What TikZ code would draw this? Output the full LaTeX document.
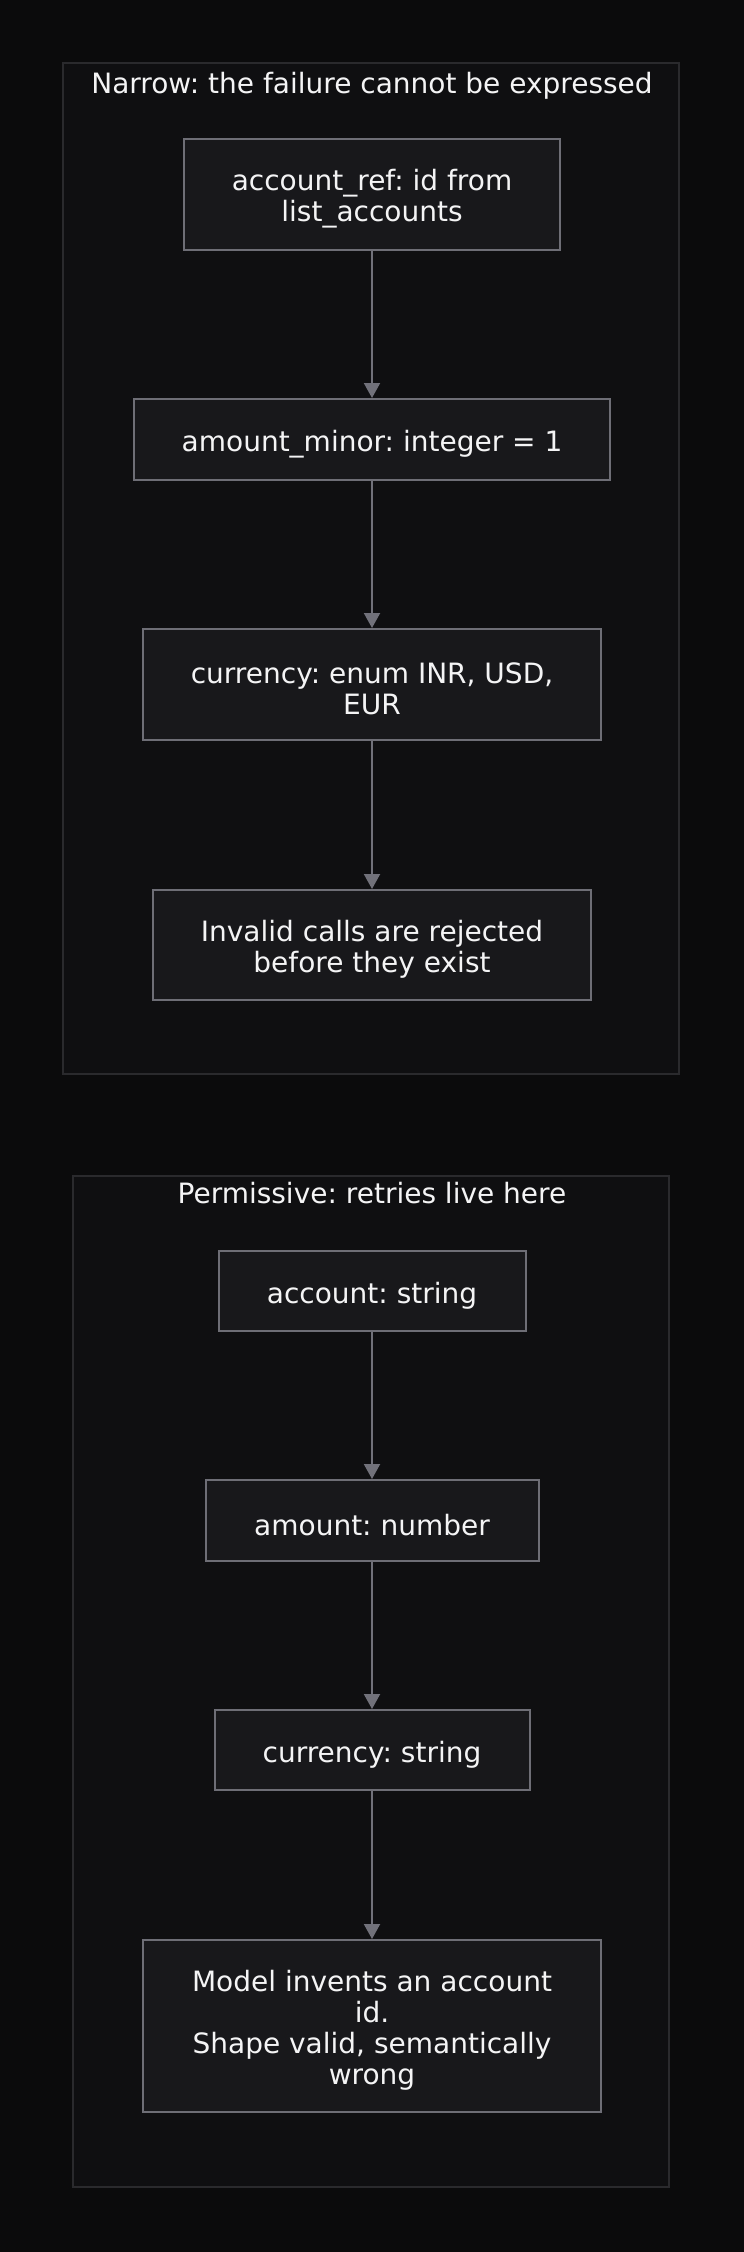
\documentclass[tikz,border=0pt]{standalone}
\usepackage{fontspec}
\setmainfont{DejaVu Sans}
\usetikzlibrary{arrows.meta}
\frenchspacing
\definecolor{bgcol}{HTML}{0B0B0C}
\definecolor{clusterfill}{HTML}{0F0F11}
\definecolor{clusterline}{HTML}{2A2A2D}
\definecolor{boxfill}{HTML}{18181B}
\definecolor{boxline}{HTML}{6E6E76}
\definecolor{arrowcol}{HTML}{71717A}
\definecolor{ink}{HTML}{F4F4F5}
\newcommand{\lift}{\rule{0pt}{30pt}}

\begin{document}
\begin{tikzpicture}[x=1pt,y=-1pt,
  cluster/.style={draw=clusterline,fill=clusterfill,line width=2pt},
  heading/.style={text=ink,anchor=base,font=\fontsize{28}{31}\selectfont},
  field/.style={draw=boxline,fill=boxfill,line width=2pt,text=ink,align=center,inner sep=0pt,font=\fontsize{28}{31}\selectfont},
  flow/.style={draw=arrowcol,line width=2pt,-{Triangle[width=16pt,length=15pt]}}]
\fill[bgcol] (0,0) rectangle (744,2252);
\useasboundingbox (0,0) rectangle (744,2252);

\draw[cluster] (63,63) rectangle (679,1074);
\node[heading] (narrowtitle) at (372,93.5) {Narrow: the failure cannot be expressed};
\node[field,minimum width=376pt,minimum height=111pt] (ref) at (372,194.5) {\lift account\_ref: id from\\list\_accounts};
\node[field,minimum width=476pt,minimum height=81pt] (minor) at (372,439.5) {\lift amount\_minor: integer = 1};
\node[field,minimum width=458pt,minimum height=111pt] (enum) at (372,684.5) {\lift currency: enum INR, USD,\\EUR};
\node[field,minimum width=438pt,minimum height=110pt] (rejected) at (372,945) {\lift Invalid calls are rejected\\before they exist};
\draw[flow] (ref) -- (minor);
\draw[flow] (minor) -- (enum);
\draw[flow] (enum) -- (rejected);

\draw[cluster] (73,1176) rectangle (669,2187);
\node[heading] (permtitle) at (372,1203.5) {Permissive: retries live here};
\node[field,minimum width=307pt,minimum height=80pt] (account) at (372,1291) {\lift account: string};
\node[field,minimum width=333pt,minimum height=81pt] (amount) at (372,1520.5) {\lift amount: number};
\node[field,minimum width=315pt,minimum height=80pt] (currency) at (372,1750) {\lift currency: string};
\node[field,minimum width=458pt,minimum height=172pt] (invents) at (372,2026) {\lift Model invents an account\\id.\\Shape valid, semantically\\wrong};
\draw[flow] (account) -- (amount);
\draw[flow] (amount) -- (currency);
\draw[flow] (currency) -- (invents);
\end{tikzpicture}
\end{document}
